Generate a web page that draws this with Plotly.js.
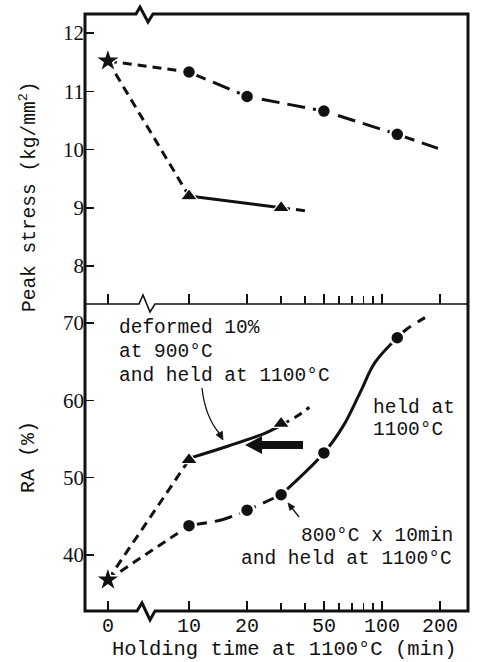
<!DOCTYPE html>
<html>
<head>
<meta charset="utf-8">
<script src="https://cdn.plot.ly/plotly-3.0.1.min.js"></script>
<style>html,body{margin:0;padding:0;background:#fff;}#chart{width:479px;height:662px;}</style>
</head>
<body>
<div id="chart"></div>
<script>
// ---------- data ----------
// x tick labels (holding time, min)
const timeTickVals = [0, 10, 20, 50, 100, 200];
const timeTickText = ['0', '10', '20', '50', '100', '200'];
const timeMinorVals = [30, 40, 60, 70, 80, 90];

// as-received (star) point
const startTime = [0];
const startStress = [11.52];
const startRA = [36.8];

// Peak stress, held at 1100C (circles)
const stressCircleTime = [10, 20, 50, 120];
const stressCircle = [11.33, 10.91, 10.66, 10.26];
const stressCircleTailTime = [120, 195];
const stressCircleTail = [10.26, 10.02];

// Peak stress, deformed 10% at 900C (triangles)
const stressTriTime = [10, 30];
const stressTri = [9.2, 9.0];
const stressTriTailTime = [30, 42];
const stressTriTail = [9.0, 8.94];

// RA, deformed 10% at 900C and held at 1100C (triangles)
const raTriTime = [10, 30];
const raTri = [52.3, 57.0];
const raTriCurveTime = [10, 16, 25, 30];
const raTriCurve = [52.5, 54.1, 55.8, 56.8];
const raTriTailTime = [30, 36, 42];
const raTriTail = [56.8, 57.9, 59.1];

// RA, 800C x 10min and held at 1100C (circles)
const raCircleTime = [10, 20, 30, 50, 120];
const raCircle = [43.8, 45.8, 47.8, 53.2, 68.1];
const raCurveATime = [10, 15, 20, 30];
const raCurveA = [43.8, 44.6, 45.8, 47.8];
const raCurveBTime = [30, 50, 63, 77, 92, 120];
const raCurveB = [47.8, 53.2, 56.7, 61.0, 64.9, 68.1];
const raCurveCTime = [120, 134, 167];
const raCurveC = [68.1, 69.2, 70.7];

// ---------- layout helpers ----------
const ZERO_POS = 3.8;               // where "0 min" sits on the broken log axis
const tp = a => a.map(t => t === 0 ? ZERO_POS : t);
const L = 85, R = 468, T = 14, B = 611, DIV = 304;
const px = x => (x - L) / (R - L);
const py = y => (B - y) / (B - T);
const P = (x, y) => px(x).toFixed(5) + ',' + py(y).toFixed(5);

const INK = '#111';
const MONO = 'Liberation Mono, DejaVu Sans Mono, monospace';
const SERIF = 'Liberation Serif, DejaVu Serif, serif';
const shortDash = '9px,6px';
const longDash = '18px,8px';

function line(x, y, dash, xa, ya, shape) {
  return {x: tp(x), y: y, xaxis: xa, yaxis: ya, type: 'scatter', mode: 'lines',
    line: {color: INK, width: 3, dash: dash, shape: shape || 'linear', smoothing: 1},
    hoverinfo: 'skip', showlegend: false};
}
function marks(x, y, symbol, size, xa, ya, ow) {
  return {x: tp(x), y: y, xaxis: xa, yaxis: ya, type: 'scatter', mode: 'markers',
    marker: {symbol: symbol, size: size, color: INK, line: {color: '#fff', width: ow}},
    hoverinfo: 'skip', showlegend: false};
}

const traces = [
  // top panel
  line([startTime[0], stressCircleTime[0]], [startStress[0], stressCircle[0]], shortDash, 'x2', 'y2'),
  line([startTime[0], stressTriTime[0]], [startStress[0], stressTri[0]], shortDash, 'x2', 'y2'),
  line(stressCircleTime, stressCircle, longDash, 'x2', 'y2'),
  line(stressCircleTailTime, stressCircleTail, longDash, 'x2', 'y2'),
  line(stressTriTime, stressTri, 'solid', 'x2', 'y2'),
  line(stressTriTailTime, stressTriTail, shortDash, 'x2', 'y2'),
  marks(stressCircleTime, stressCircle, 'circle', 14, 'x2', 'y2', 2.5),
  marks(stressTriTime, stressTri, 'triangle-up', 15, 'x2', 'y2', 1.2),
  marks(startTime, startStress, 'star', 19, 'x2', 'y2', 1.5),
  // bottom panel
  line([startTime[0], raTriTime[0]], [startRA[0], raTri[0]], shortDash, 'x', 'y'),
  line([startTime[0], raCircleTime[0]], [startRA[0], raCircle[0]], shortDash, 'x', 'y'),
  line(raTriCurveTime, raTriCurve, 'solid', 'x', 'y', 'spline'),
  line(raTriTailTime, raTriTail, shortDash, 'x', 'y', 'spline'),
  line(raCurveATime, raCurveA, longDash, 'x', 'y', 'spline'),
  line(raCurveBTime, raCurveB, 'solid', 'x', 'y', 'spline'),
  line(raCurveCTime, raCurveC, longDash, 'x', 'y', 'spline'),
  marks(raCircleTime, raCircle, 'circle', 14, 'x', 'y', 2.5),
  marks(raTriTime, raTri, 'triangle-up', 15, 'x', 'y', 1.2),
  marks(startTime, startRA, 'star', 19, 'x', 'y', 1.5)
];

const xCommon = {
  type: 'log', range: [0.4611, 2.4456],
  tickmode: 'array', tickvals: tp(timeTickVals), ticktext: timeTickText,
  ticks: 'inside', ticklen: 10, tickwidth: 1.5, tickcolor: INK,
  minor: {tickmode: 'array', tickvals: timeMinorVals, ticks: 'inside', ticklen: 8, tickwidth: 1.5, tickcolor: INK},
  showgrid: false, zeroline: false, showline: false,
  tickfont: {family: MONO, size: 20, color: INK}
};

const splitY = (B - DIV) / (B - T);

const frame = 'M ' + P(L, T) + ' L ' + P(136, T) + ' L ' + P(140, 7) + ' L ' + P(148, 22) + ' L ' + P(153, T) +
  ' L ' + P(R, T) + ' L ' + P(R, B) + ' L ' + P(155, B) + ' L ' + P(150, 620) + ' L ' + P(142, 603) +
  ' L ' + P(137, B) + ' L ' + P(L, B) + ' Z';
const divider = 'M ' + P(L, DIV) + ' L ' + P(139, DIV) + ' L ' + P(143, 295) + ' L ' + P(150, 312) +
  ' L ' + P(155, DIV) + ' L ' + P(R, DIV);
const bigArrow = 'M ' + P(245, 445) + ' L ' + P(262, 436) + ' L ' + P(262, 441) + ' L ' + P(303, 441) +
  ' L ' + P(303, 449) + ' L ' + P(262, 449) + ' L ' + P(262, 454) + ' Z';
const thinCurve = 'M ' + P(202, 388) + ' Q ' + P(205, 416) + ' ' + P(219, 433);
const thinHead = 'M ' + P(223, 440) + ' L ' + P(216.1, 434.7) + ' L ' + P(222.3, 431.3) + ' Z';
const smallLine = 'M ' + P(299, 517) + ' L ' + P(292, 508);
const smallHead = 'M ' + P(288, 503) + ' L ' + P(294.7, 506.7) + ' L ' + P(289.9, 510.4) + ' Z';

function txt(s, x, y, size, anchor) {
  return {text: s, xref: 'paper', yref: 'paper', x: px(x), y: py(y), xanchor: anchor || 'left', yanchor: 'middle',
    showarrow: false, font: {family: MONO, size: size || 19.5, color: INK}};
}

const annotations = [
  txt('deformed 10%', 117, 328),
  txt('at 900°C', 117, 352),
  txt('and held at 1100°C', 117, 376),
  txt('held at', 371, 408),
  txt('1100°C', 371, 430),
  txt('800°C x 10min', 299, 536),
  txt('and held at 1100°C', 239, 559),
  {text: 'Holding time at 1100°C (min)', xref: 'paper', yref: 'paper', x: px(284), y: py(649),
    xanchor: 'center', yanchor: 'middle', showarrow: false, font: {family: MONO, size: 20.5, color: INK}},
  {text: 'Peak stress (kg/mm<sup>2</sup>)', xref: 'paper', yref: 'paper', x: px(28), y: py(197),
    xanchor: 'center', yanchor: 'middle', textangle: -90, showarrow: false, font: {family: MONO, size: 19.5, color: INK}},
  {text: 'RA (%)', xref: 'paper', yref: 'paper', x: px(28), y: py(457),
    xanchor: 'center', yanchor: 'middle', textangle: -90, showarrow: false, font: {family: MONO, size: 20, color: INK}}
];

const shp = (path, w, fill) => ({type: 'path', xref: 'paper', yref: 'paper', path: path,
  line: {color: INK, width: w}, fillcolor: fill || 'rgba(0,0,0,0)', layer: 'above'});

const layout = {
  width: 479, height: 662,
  margin: {l: L, r: 479 - R, t: T, b: 662 - B},
  paper_bgcolor: '#fff', plot_bgcolor: '#fff',
  showlegend: false,
  xaxis: Object.assign({}, xCommon, {anchor: 'y'}),
  xaxis2: Object.assign({}, xCommon, {anchor: 'y2', matches: 'x', showticklabels: false}),
  yaxis: {domain: [0, splitY], range: [32.76, 72.46], tickvals: [40, 50, 60, 70],
    ticks: 'inside', ticklen: 9, tickwidth: 1.5, tickcolor: INK, showgrid: false, zeroline: false, showline: false,
    tickfont: {family: SERIF, size: 21, color: INK}, anchor: 'x'},
  yaxis2: {domain: [splitY, 1], range: [7.348, 12.326], tickvals: [8, 9, 10, 11, 12],
    ticks: 'inside', ticklen: 9, tickwidth: 1.5, tickcolor: INK, showgrid: false, zeroline: false, showline: false,
    tickfont: {family: SERIF, size: 21, color: INK}, anchor: 'x2'},
  shapes: [
    shp(frame, 3),
    shp(divider, 1.6),
    shp(bigArrow, 0, INK),
    shp(thinCurve, 1.3),
    shp(thinHead, 0.8, INK),
    shp(smallLine, 1.3),
    shp(smallHead, 0.8, INK)
  ],
  annotations: annotations
};

Plotly.newPlot('chart', traces, layout, {displayModeBar: false, staticPlot: true});
</script>
</body>
</html>
